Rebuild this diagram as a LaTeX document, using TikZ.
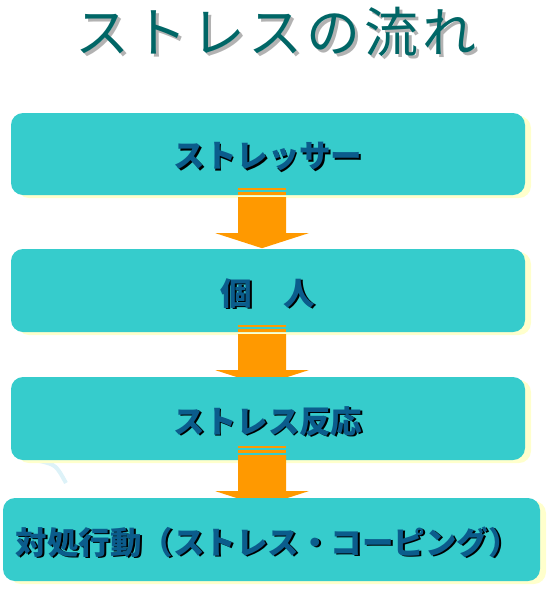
\documentclass[tikz,border=0pt]{standalone}
\usepackage{fontspec}
\usetikzlibrary{shadows,calc}
\newfontfamily\jp{Noto Sans CJK JP}
\newfontfamily\jptitle[LetterSpace=7]{Noto Sans CJK JP}
\definecolor{boxc}{HTML}{36CCCC}
\definecolor{shadc}{HTML}{FFFFCC}
\definecolor{titlec}{HTML}{006666}
\definecolor{textc}{HTML}{0B5C8C}
\definecolor{arrowc}{HTML}{FF9900}
\definecolor{faintc}{HTML}{DDF2F8}
\newcommand\shtext[1]{\raisebox{-3.5pt}[\height][\depth]{\rlap{\kern1.6pt\raisebox{-1.6pt}{\color{black}#1}}{\color{textc}#1}}}
\newcommand\titletext[1]{\rlap{\kern3pt\raisebox{-3pt}{\color{black!30}#1}}{\color{titlec}#1}}
% #1 = upper node, #2 = vertical offset of the arrow
\newcommand\flowarrow[2]{%
  \fill[arrowc] ([shift={(-30,-7+#2)}]#1.south) rectangle ([shift={(18,-5+#2)}]#1.south);
  \fill[arrowc] ([shift={(-30,-3+#2)}]#1.south) rectangle ([shift={(18,0+#2)}]#1.south);
  \fill[arrowc] ([shift={(-30,2+#2)}]#1.south) -- ([shift={(-30,38+#2)}]#1.south)
    -- ([shift={(-52.5,38+#2)}]#1.south) -- ([shift={(-6,53+#2)}]#1.south)
    -- ([shift={(40.5,38+#2)}]#1.south) -- ([shift={(18,38+#2)}]#1.south)
    -- ([shift={(18,2+#2)}]#1.south) -- cycle;}
\tikzset{
  flowbox/.style={fill=boxc, rounded corners=12pt, inner sep=0pt,
    drop shadow={shadow xshift=6pt, shadow yshift=-3pt, fill=shadc, opacity=1},
    font=\jp\bfseries\fontsize{31.5}{36}\selectfont},
}
\begin{document}
\begin{tikzpicture}[x=1pt,y=-1pt]
\useasboundingbox (0,0) rectangle (553,598);
\node[font=\jptitle\fontsize{54}{60}\selectfont, inner sep=0pt] (title) at (276,33) {\titletext{ストレスの流れ}};
\draw[faintc, line width=4pt] (40,461) .. controls (56,465) .. (66,483);
\node[flowbox, minimum width=514pt, minimum height=82pt] (b1) at (268,154) {\shtext{ストレッサー}};
\flowarrow{b1}{0}
\node[flowbox, minimum width=514pt, minimum height=83pt] (b2) at (268,290.5) {\shtext{個　人}};
\flowarrow{b2}{0}
\node[flowbox, minimum width=514pt, minimum height=83pt] (b3) at (268,418.5) {\shtext{ストレス反応}};
\flowarrow{b3}{-7}
\node[flowbox, minimum width=537pt, minimum height=83pt, text width=511pt, align=left] (b4) at (271.5,539.5) {\shtext{対処行動（ストレス・コーピング）}};
\end{tikzpicture}
\end{document}
